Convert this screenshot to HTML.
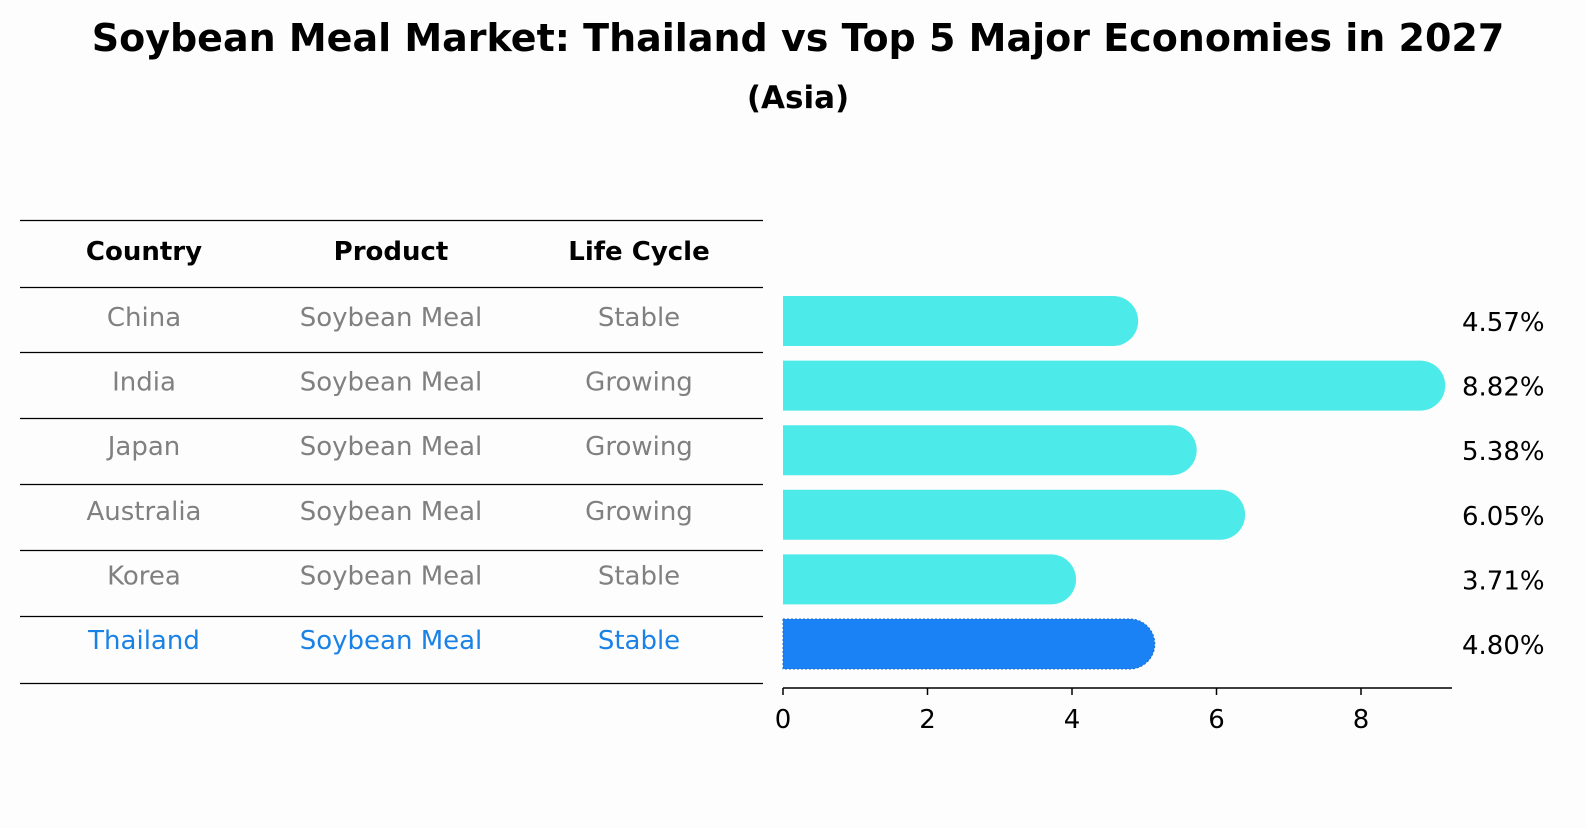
<!DOCTYPE html>
<html><head><meta charset="utf-8"><style>
body{margin:0;background:#fdfdfd;font-family:"Liberation Sans","DejaVu Sans",sans-serif}
svg text{font-family:"DejaVu Sans","Liberation Sans",sans-serif}
</style></head><body>
<svg id="c" width="1586" height="823" xmlns="http://www.w3.org/2000/svg">
<rect width="1586" height="823" fill="#fdfdfd"/>
<text x="798" y="38" text-anchor="middle" dominant-baseline="central" font-size="38" font-weight="bold">Soybean Meal Market: Thailand vs Top 5 Major Economies in 2027</text>
<text x="798" y="98" text-anchor="middle" dominant-baseline="central" font-size="31" font-weight="bold">(Asia)</text>
<g id="table"></g>
<g id="bars"></g>
<g id="axis"></g>
</svg>
<script>
const countries=["China","India","Japan","Australia","Korea","Thailand"];
const products=["Soybean Meal","Soybean Meal","Soybean Meal","Soybean Meal","Soybean Meal","Soybean Meal"];
const cycles=["Stable","Growing","Growing","Growing","Stable","Stable"];
const values=[4.57,8.82,5.38,6.05,3.71,4.80];
const ticks=[0,2,4,6,8];
const NS="http://www.w3.org/2000/svg";
function mk(t,a,p){const e=document.createElementNS(NS,t);for(const k in a)e.setAttribute(k,a[k]);p.appendChild(e);return e;}
const X=v=>783+v*72.25;
const rowY=i=>321+i*64.6;
const tbl=document.getElementById('table');
const lines=[220,287,352,418,484,550,616,683];
lines.forEach(y=>{const l=mk('line',{x1:20,x2:763,y1:y+0.5,y2:y+0.5,stroke:'#000','stroke-width':1.2},tbl);

});
const cx=[144,391,639];
["Country","Product","Life Cycle"].forEach((h,j)=>{const t=mk('text',{x:cx[j],y:252,'text-anchor':'middle','dominant-baseline':'central','font-size':26,'font-weight':'bold'},tbl);t.textContent=h;

});
countries.forEach((c,i)=>{const col=i===5?'#1a82e6':'#808080';
[c,products[i],cycles[i]].forEach((s,j)=>{const t=mk('text',{x:cx[j],y:rowY(i)-3,'text-anchor':'middle','dominant-baseline':'central','font-size':26,fill:col},tbl);t.textContent=s;

});});
const bg=document.getElementById('bars');
values.forEach((v,i)=>{const y=rowY(i),h=50,r=25;const col=i===5?'#1a82f5':'#4deaea';
const g=mk('g',{},bg);


const p=mk('path',{d:`M${X(0)},${y-h/2} H${X(v)} A${r},${r} 0 0 1 ${X(v)},${y+h/2} H${X(0)} Z`,fill:col},g);
if(i===5){p.setAttribute('stroke','#1a6fd0');p.setAttribute('stroke-dasharray','2,2');}
const t=mk('text',{x:1462,y:y+2,'dominant-baseline':'central','font-size':26},bg);t.textContent=v.toFixed(2)+'%';

});
const ax=document.getElementById('axis');
mk('line',{x1:783,x2:1452,y1:688,y2:688,stroke:'#000','stroke-width':1.5},ax);
ticks.forEach(v=>{mk('line',{x1:X(v),x2:X(v),y1:688,y2:695,stroke:'#000','stroke-width':1.5},ax);
const t=mk('text',{x:X(v),y:720,'text-anchor':'middle','dominant-baseline':'central','font-size':26},ax);t.textContent=v;

});
</script>
</body></html>
